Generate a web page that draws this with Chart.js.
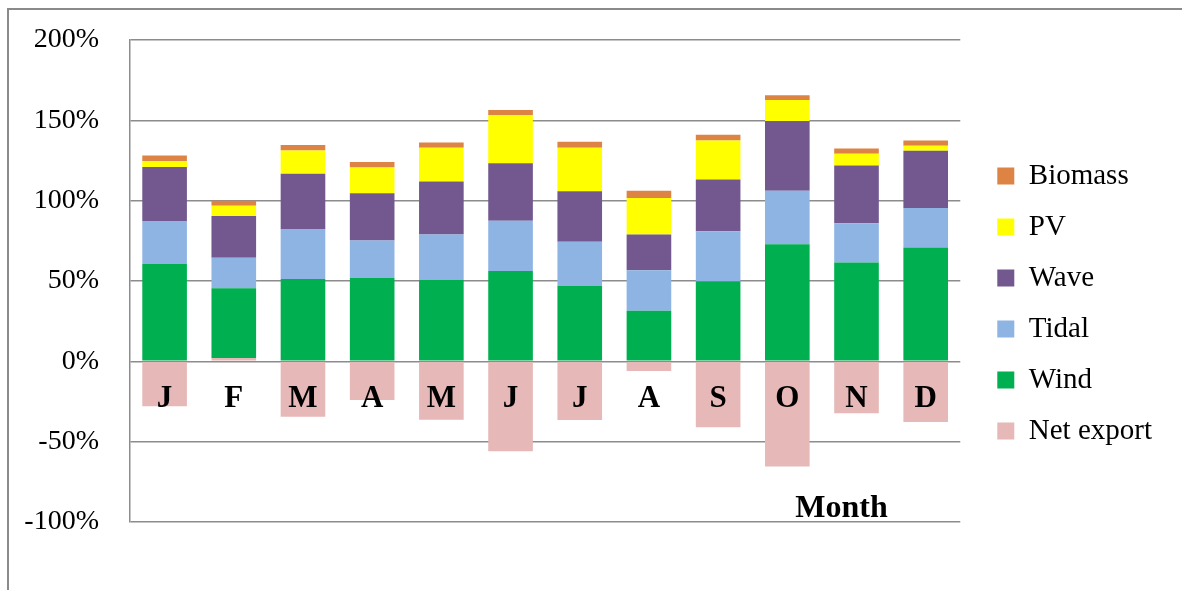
<!DOCTYPE html>
<html>
<head>
<meta charset="utf-8">
<script src="https://cdn.jsdelivr.net/npm/chart.js@4/dist/chart.umd.min.js"></script>
<style>
  html, body { margin: 0; padding: 0; background: #fff; }
  #wrap { width: 1182px; height: 590px; }
</style>
</head>
<body>
<div id="wrap"><canvas id="c" width="1182" height="590"></canvas></div>
<script>
const months = ['J','F','M','A','M','J','J','A','S','O','N','D'];
const yTicks = [-100, -50, 0, 50, 100, 150, 200];
const netExport = [-28, 2, -34.5, -24, -36.3, -56, -36.5, -6, -41, -65.4, -32.3, -37.7];
const wind      = [60.6, 43.5, 51.3, 51.9, 50.6, 56.3, 47.1, 31.5, 49.8, 72.9, 61.5, 70.8];
const tidal     = [26.5, 19.0, 30.8, 23.3, 28.4, 31.2, 27.3, 25.2, 31.2, 33.3, 24.5, 24.6];
const wave      = [33.9, 26.0, 34.6, 29.4, 32.9, 35.8, 31.4, 22.3, 32.1, 43.4, 35.9, 35.6];
const pv        = [3.6, 6.3, 14.6, 16.0, 21.0, 30.0, 27.1, 22.7, 24.4, 13.1, 7.3, 3.2];
const biomass   = [3.5, 3.1, 3.3, 3.4, 3.3, 3.2, 3.8, 4.5, 3.5, 2.9, 3.3, 3.3];
const axisTitle = 'Month';

const SERIF = '"Liberation Serif", "Times New Roman", serif';

const framePlugin = {
  id: 'frame',
  beforeDraw(chart) {
    const ctx = chart.ctx;
    ctx.save();
    ctx.strokeStyle = '#8a8a8a';
    ctx.lineWidth = 2;
    ctx.beginPath();
    ctx.moveTo(8, 590);
    ctx.lineTo(8, 9);
    ctx.lineTo(1182, 9);
    ctx.stroke();
    ctx.restore();
  }
};

const labelPlugin = {
  id: 'monthLabels',
  afterDatasetsDraw(chart) {
    const ctx = chart.ctx;
    const xs = chart.scales.x, ys = chart.scales.y;
    const base = ys.getPixelForValue(0);
    ctx.save();
    ctx.fillStyle = '#000';
    ctx.font = 'bold 31px ' + SERIF;
    ctx.textAlign = 'center';
    ctx.textBaseline = 'alphabetic';
    months.forEach((m, i) => {
      ctx.fillText(m, xs.getPixelForValue(i), base + 46);
    });
    ctx.font = 'bold 32px ' + SERIF;
    ctx.textAlign = 'left';
    ctx.fillText(axisTitle, chart.chartArea.right - 165, chart.chartArea.bottom - 5);
    ctx.restore();
  }
};

const mk = (label, data, color) => ({
  label, data, backgroundColor: color, borderWidth: 0,
  categoryPercentage: 1.0, barPercentage: 0.645
});

new Chart(document.getElementById('c'), {
  type: 'bar',
  data: {
    labels: months,
    datasets: [
      mk('Net export', netExport, '#e6b9b8'),
      mk('Wind', wind, '#00b050'),
      mk('Tidal', tidal, '#8eb4e3'),
      mk('Wave', wave, '#72588f'),
      mk('PV', pv, '#ffff00'),
      mk('Biomass', biomass, '#dd8344')
    ]
  },
  options: {
    responsive: false,
    animation: false,
    devicePixelRatio: 1,
    layout: { padding: { left: 0, top: 40, bottom: 68, right: 20 } },
    plugins: {
      tooltip: { enabled: false },
      legend: {
        position: 'right',
        align: 'start',
        reverse: true,
        title: { display: true, text: '', font: { size: 10, lineHeight: 1.2 }, padding: { top: 87.5, bottom: 0 } },
        labels: {
          color: '#000',
          font: { family: SERIF, size: 29 },
          boxWidth: 17,
          boxHeight: 17,
          padding: 22
        }
      }
    },
    scales: {
      x: {
        stacked: true,
        display: false
      },
      y: {
        stacked: true,
        min: -100,
        max: 200,
        afterBuildTicks(s) { s.ticks = yTicks.map(v => ({ value: v })); },
        afterFit(s) { s.width = 130; },
        ticks: {
          color: '#000',
          padding: 31,
          font: { family: SERIF, size: 28, lineHeight: 0.4 },
          callback: v => v + '%'
        },
        grid: { color: '#8c8c8c', lineWidth: 1.5, drawTicks: false },
        border: { display: true, color: '#8c8c8c', width: 1.5 }
      },
      y2: {
        type: 'linear',
        position: 'right',
        display: true,
        grid: { display: false },
        border: { display: false },
        ticks: { display: false },
        afterFit(s) { s.width = 15; }
      }
    }
  },
  plugins: [framePlugin, labelPlugin]
});
</script>
</body>
</html>
